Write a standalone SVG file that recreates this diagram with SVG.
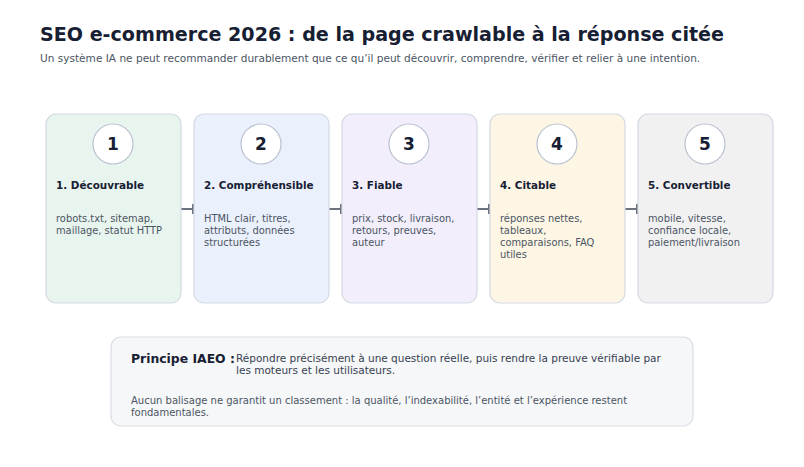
<svg xmlns="http://www.w3.org/2000/svg" width="804" height="467" viewBox="0 0 804 467">
<style>
text{font-family:"DejaVu Sans","Liberation Sans",sans-serif}
.h1{font-size:19.1px;font-weight:bold;fill:#172033}
.sub{font-size:10.55px;fill:#4b5563}
.card{stroke:#d3d9e3;stroke-width:1.2}
.circ{fill:#ffffff;stroke:#b9c1d0;stroke-width:1.2}
.num{font-size:17px;font-weight:bold;fill:#172033;text-anchor:middle}
.ct{font-size:10.4px;font-weight:bold;fill:#172033}
.cb{font-size:9.9px;fill:#4b5563}
.conn{stroke:#6b7280;stroke-width:2;fill:none}
.note{fill:#f6f7f9;stroke:#d9dde4;stroke-width:1.2}
.pt{font-size:12.4px;font-weight:bold;fill:#172033}
.pb{font-size:10.5px;fill:#374151}
.ft{font-size:10px;fill:#4b5563}
</style>
<rect width="804" height="467" fill="#ffffff"/>
<text class="h1" x="40" y="41">SEO e-commerce 2026 : de la page crawlable à la réponse citée</text>
<text class="sub" x="40" y="62">Un système IA ne peut recommander durablement que ce qu’il peut découvrir, comprendre, vérifier et relier à une intention.</text>
<g id="connectors">
<path class="conn" d="M181 209H193M193 204V214"/>
<path class="conn" d="M329 209H341M341 204V214"/>
<path class="conn" d="M477 209H489M489 204V214"/>
<path class="conn" d="M625 209H637M637 204V214"/>
</g>
<g id="node1">
<rect class="card" x="46" y="114" width="135" height="189" rx="10" fill="#e8f4ee"/>
<circle class="circ" cx="113" cy="144" r="20"/>
<text class="num" x="113" y="150">1</text>
<text class="ct" x="56" y="189">1. Découvrable</text>
<text class="cb" x="56" y="222">robots.txt, sitemap,</text>
<text class="cb" x="56" y="234">maillage, statut HTTP</text>
</g>
<g id="node2">
<rect class="card" x="194" y="114" width="135" height="189" rx="10" fill="#eaf0fc"/>
<circle class="circ" cx="261" cy="144" r="20"/>
<text class="num" x="261" y="150">2</text>
<text class="ct" x="204" y="189">2. Compréhensible</text>
<text class="cb" x="204" y="222">HTML clair, titres,</text>
<text class="cb" x="204" y="234">attributs, données</text>
<text class="cb" x="204" y="246">structurées</text>
</g>
<g id="node3">
<rect class="card" x="342" y="114" width="135" height="189" rx="10" fill="#f2eefb"/>
<circle class="circ" cx="409" cy="144" r="20"/>
<text class="num" x="409" y="150">3</text>
<text class="ct" x="352" y="189">3. Fiable</text>
<text class="cb" x="352" y="222">prix, stock, livraison,</text>
<text class="cb" x="352" y="234">retours, preuves,</text>
<text class="cb" x="352" y="246">auteur</text>
</g>
<g id="node4">
<rect class="card" x="490" y="114" width="135" height="189" rx="10" fill="#fdf6e4"/>
<circle class="circ" cx="557" cy="144" r="20"/>
<text class="num" x="557" y="150">4</text>
<text class="ct" x="500" y="189">4. Citable</text>
<text class="cb" x="500" y="222">réponses nettes,</text>
<text class="cb" x="500" y="234">tableaux,</text>
<text class="cb" x="500" y="246">comparaisons, FAQ</text>
<text class="cb" x="500" y="258">utiles</text>
</g>
<g id="node5">
<rect class="card" x="638" y="114" width="135" height="189" rx="10" fill="#f1f1f2"/>
<circle class="circ" cx="705" cy="144" r="20"/>
<text class="num" x="705" y="150">5</text>
<text class="ct" x="648" y="189">5. Convertible</text>
<text class="cb" x="648" y="222">mobile, vitesse,</text>
<text class="cb" x="648" y="234">confiance locale,</text>
<text class="cb" x="648" y="246">paiement/livraison</text>
</g>
<g id="principle">
<rect class="note" x="111" y="337" width="582" height="89" rx="10"/>
<text class="pt" x="131" y="363">Principe IAEO :</text>
<text class="pb" x="236" y="362">Répondre précisément à une question réelle, puis rendre la preuve vérifiable par</text>
<text class="pb" x="236" y="374">les moteurs et les utilisateurs.</text>
<text class="ft" x="131" y="404">Aucun balisage ne garantit un classement : la qualité, l’indexabilité, l’entité et l’expérience restent</text>
<text class="ft" x="131" y="416">fondamentales.</text>
</g>
</svg>
